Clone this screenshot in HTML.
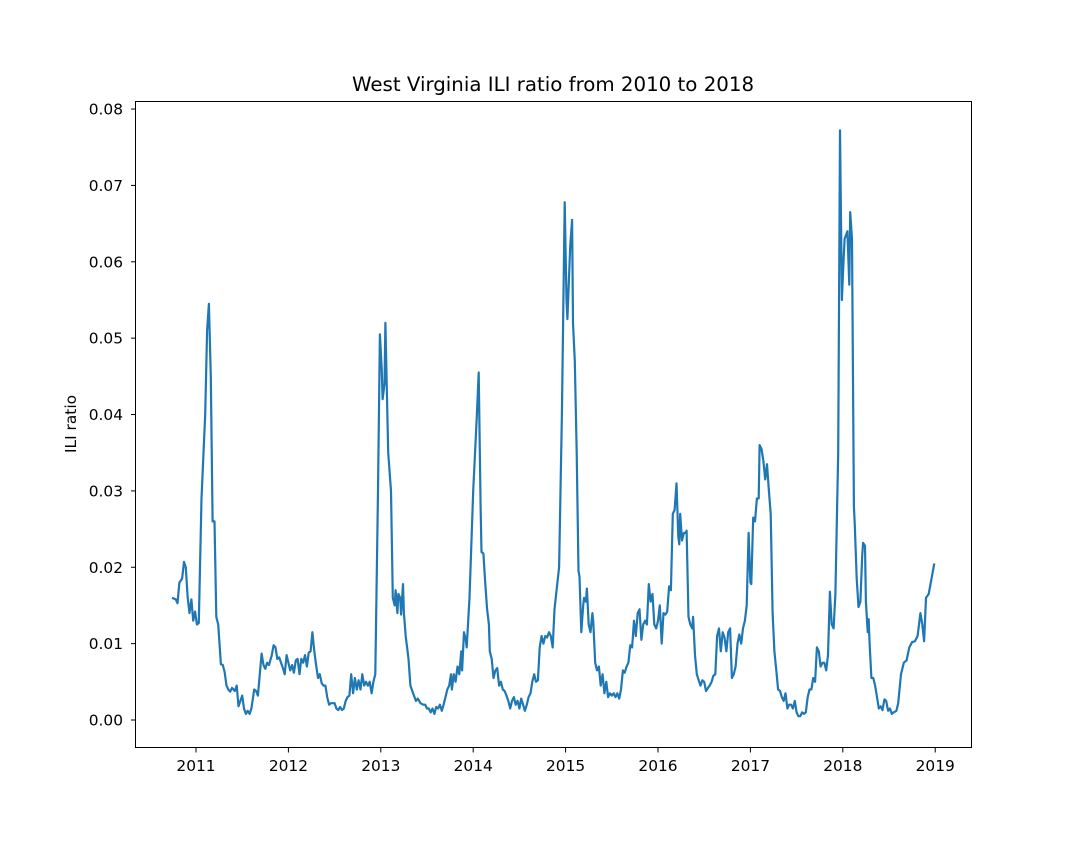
<!DOCTYPE html>
<html><head><meta charset="utf-8"><style>
body{margin:0;background:#fff;}
svg{font-family:"DejaVu Sans","Liberation Sans",sans-serif;}
</style></head><body>
<svg id="chart" width="1080" height="840" viewBox="0 0 1080 840">
<rect width="1080" height="840" fill="#fff"/>
<text x="553" y="91" text-anchor="middle" font-size="19.8">West Virginia ILI ratio from 2010 to 2018</text>
<text transform="translate(76,424) rotate(-90)" text-anchor="middle" font-size="15.4">ILI ratio</text>
<g id="ticks"></g>
<path id="line" fill="none" stroke="#1f77b4" stroke-width="2.2" stroke-linejoin="round"/>
<rect x="135.5" y="101.5" width="836" height="646" fill="none" stroke="#000" stroke-width="1"/>
</svg>
<script>
const dates=[2010.74,2010.78,2010.80,2010.82,2010.85,2010.87,2010.89,2010.91,2010.93,2010.95,2010.97,2010.99,2011.01,2011.03,2011.06,2011.10,2011.12,2011.14,2011.16,2011.18,2011.20,2011.22,2011.24,2011.27,2011.29,2011.31,2011.33,2011.35,2011.37,2011.39,2011.42,2011.44,2011.46,2011.48,2011.50,2011.52,2011.54,2011.56,2011.58,2011.60,2011.63,2011.65,2011.67,2011.69,2011.71,2011.73,2011.75,2011.77,2011.79,2011.82,2011.84,2011.86,2011.88,2011.90,2011.92,2011.94,2011.96,2011.98,2012.00,2012.02,2012.04,2012.06,2012.08,2012.10,2012.12,2012.14,2012.16,2012.18,2012.20,2012.22,2012.24,2012.26,2012.28,2012.30,2012.32,2012.34,2012.36,2012.38,2012.40,2012.42,2012.44,2012.46,2012.48,2012.50,2012.52,2012.54,2012.56,2012.58,2012.60,2012.62,2012.64,2012.66,2012.68,2012.70,2012.72,2012.74,2012.76,2012.78,2012.80,2012.82,2012.84,2012.86,2012.88,2012.90,2012.92,2012.94,2012.96,2012.97,2012.99,2013.01,2013.02,2013.04,2013.05,2013.08,2013.11,2013.13,2013.15,2013.16,2013.18,2013.19,2013.21,2013.22,2013.24,2013.25,2013.27,2013.30,2013.32,2013.35,2013.38,2013.40,2013.43,2013.46,2013.48,2013.50,2013.52,2013.54,2013.56,2013.58,2013.60,2013.62,2013.64,2013.66,2013.68,2013.70,2013.72,2013.74,2013.76,2013.77,2013.79,2013.81,2013.83,2013.85,2013.87,2013.88,2013.90,2013.92,2013.93,2013.96,2014.00,2014.04,2014.06,2014.08,2014.09,2014.11,2014.13,2014.15,2014.17,2014.18,2014.20,2014.22,2014.24,2014.26,2014.28,2014.30,2014.32,2014.34,2014.36,2014.38,2014.40,2014.42,2014.44,2014.46,2014.48,2014.50,2014.52,2014.54,2014.56,2014.58,2014.60,2014.62,2014.64,2014.66,2014.68,2014.70,2014.72,2014.74,2014.76,2014.78,2014.80,2014.82,2014.84,2014.86,2014.88,2014.90,2014.93,2014.96,2014.99,2015.01,2015.02,2015.05,2015.07,2015.08,2015.10,2015.12,2015.14,2015.15,2015.17,2015.19,2015.20,2015.22,2015.23,2015.25,2015.27,2015.29,2015.30,2015.32,2015.34,2015.36,2015.38,2015.40,2015.42,2015.44,2015.46,2015.48,2015.50,2015.52,2015.54,2015.56,2015.58,2015.60,2015.62,2015.64,2015.66,2015.68,2015.70,2015.72,2015.74,2015.76,2015.78,2015.80,2015.82,2015.84,2015.86,2015.88,2015.90,2015.92,2015.94,2015.96,2015.98,2016.00,2016.02,2016.04,2016.06,2016.08,2016.10,2016.12,2016.14,2016.16,2016.18,2016.20,2016.22,2016.23,2016.24,2016.26,2016.28,2016.30,2016.31,2016.33,2016.35,2016.37,2016.38,2016.40,2016.42,2016.44,2016.46,2016.48,2016.50,2016.52,2016.54,2016.56,2016.58,2016.60,2016.62,2016.64,2016.66,2016.68,2016.70,2016.72,2016.74,2016.76,2016.78,2016.80,2016.82,2016.84,2016.86,2016.88,2016.90,2016.92,2016.94,2016.96,2016.98,2017.00,2017.01,2017.03,2017.05,2017.07,2017.09,2017.10,2017.12,2017.14,2017.16,2017.18,2017.20,2017.22,2017.24,2017.26,2017.28,2017.30,2017.32,2017.34,2017.36,2017.38,2017.40,2017.42,2017.44,2017.46,2017.48,2017.50,2017.52,2017.54,2017.56,2017.58,2017.60,2017.62,2017.64,2017.66,2017.68,2017.70,2017.72,2017.74,2017.76,2017.78,2017.80,2017.82,2017.84,2017.86,2017.88,2017.90,2017.92,2017.95,2017.97,2017.99,2018.00,2018.02,2018.05,2018.07,2018.08,2018.10,2018.12,2018.13,2018.15,2018.17,2018.19,2018.21,2018.22,2018.24,2018.25,2018.27,2018.28,2018.29,2018.31,2018.33,2018.35,2018.37,2018.39,2018.41,2018.43,2018.45,2018.47,2018.49,2018.51,2018.53,2018.55,2018.58,2018.60,2018.63,2018.66,2018.69,2018.72,2018.75,2018.78,2018.81,2018.84,2018.86,2018.88,2018.90,2018.93,2018.99];
const values=[0.016,0.0158,0.0153,0.018,0.0185,0.0207,0.020,0.016,0.014,0.0158,0.013,0.0142,0.0125,0.0127,0.029,0.040,0.051,0.0545,0.045,0.026,0.026,0.0135,0.0125,0.0073,0.0072,0.0063,0.0045,0.004,0.0037,0.0042,0.0038,0.0045,0.0018,0.0025,0.0032,0.0015,0.0008,0.0012,0.0008,0.0015,0.004,0.0038,0.0032,0.006,0.0087,0.0072,0.0067,0.0075,0.0072,0.0085,0.0098,0.0095,0.008,0.0082,0.0075,0.0068,0.006,0.0085,0.0075,0.0065,0.0072,0.0062,0.0078,0.008,0.006,0.008,0.0075,0.0085,0.007,0.0088,0.009,0.0115,0.009,0.0072,0.0055,0.006,0.0048,0.0045,0.0045,0.003,0.002,0.0022,0.0022,0.0022,0.0015,0.0013,0.0017,0.0013,0.0015,0.0025,0.003,0.0032,0.006,0.0035,0.0055,0.004,0.0052,0.004,0.006,0.0045,0.005,0.0045,0.005,0.0035,0.005,0.006,0.022,0.030,0.0505,0.046,0.042,0.044,0.052,0.035,0.030,0.016,0.015,0.017,0.014,0.0165,0.016,0.0138,0.0178,0.014,0.011,0.008,0.0045,0.0035,0.0025,0.0028,0.0022,0.002,0.002,0.0015,0.0015,0.001,0.0015,0.0008,0.0017,0.0015,0.002,0.0012,0.002,0.003,0.004,0.0045,0.006,0.004,0.006,0.005,0.007,0.006,0.009,0.0065,0.0115,0.0105,0.0095,0.016,0.030,0.040,0.0455,0.028,0.022,0.0218,0.018,0.0145,0.0125,0.009,0.008,0.0055,0.0065,0.0068,0.0045,0.005,0.004,0.0038,0.0032,0.0025,0.0015,0.0025,0.003,0.002,0.0025,0.0015,0.0028,0.002,0.0012,0.002,0.003,0.0035,0.005,0.006,0.005,0.0052,0.0095,0.011,0.010,0.011,0.0108,0.0115,0.011,0.0095,0.0145,0.0168,0.020,0.040,0.0678,0.055,0.0525,0.062,0.0655,0.052,0.047,0.035,0.0195,0.0188,0.0115,0.015,0.016,0.0155,0.0172,0.0125,0.0115,0.014,0.0128,0.0075,0.0065,0.007,0.0045,0.006,0.0035,0.005,0.003,0.0035,0.0032,0.0035,0.003,0.0035,0.0028,0.004,0.0065,0.0062,0.007,0.0075,0.0098,0.0095,0.013,0.011,0.014,0.0145,0.0105,0.0125,0.013,0.0125,0.0178,0.0155,0.0165,0.0125,0.012,0.013,0.015,0.010,0.014,0.0138,0.0142,0.0175,0.017,0.027,0.0275,0.031,0.024,0.023,0.027,0.0235,0.0245,0.0245,0.0248,0.0135,0.0125,0.012,0.0135,0.0085,0.006,0.0052,0.0045,0.0052,0.005,0.0038,0.0042,0.0045,0.005,0.0058,0.006,0.011,0.012,0.009,0.0115,0.0108,0.009,0.0115,0.012,0.0055,0.006,0.007,0.010,0.0112,0.010,0.012,0.013,0.015,0.0245,0.018,0.0178,0.0265,0.026,0.029,0.029,0.036,0.0355,0.034,0.0315,0.0335,0.030,0.027,0.014,0.009,0.0065,0.004,0.0038,0.003,0.0025,0.0035,0.0015,0.002,0.002,0.0015,0.0025,0.001,0.0005,0.0005,0.001,0.0008,0.001,0.003,0.004,0.004,0.0055,0.005,0.0095,0.009,0.007,0.0075,0.0075,0.0065,0.0085,0.0168,0.0125,0.012,0.0165,0.035,0.0772,0.055,0.058,0.063,0.064,0.057,0.0665,0.063,0.028,0.0255,0.0185,0.0148,0.0155,0.0215,0.0232,0.0228,0.0155,0.0115,0.0132,0.010,0.0055,0.0055,0.0045,0.003,0.0015,0.0018,0.0013,0.0027,0.0025,0.0012,0.0015,0.0008,0.001,0.0012,0.0022,0.006,0.0075,0.0078,0.0095,0.0102,0.0103,0.011,0.014,0.0125,0.0103,0.016,0.0165,0.0205];
const xTicks=[2011,2012,2013,2014,2015,2016,2017,2018,2019];
const yTicks=[0,0.01,0.02,0.03,0.04,0.05,0.06,0.07,0.08];
const yTickLabels=["0.00","0.01","0.02","0.03","0.04","0.05","0.06","0.07","0.08"];

const NS="http://www.w3.org/2000/svg";
function xScale(t){return 196+(t-2011)*92.4;}
function yScale(v){return 720-v*7637;}
const g=document.getElementById('ticks');
xTicks.forEach(function(t){
  const x=xScale(t);
  const l=document.createElementNS(NS,'line');
  l.setAttribute('x1',x);l.setAttribute('x2',x);l.setAttribute('y1',748);l.setAttribute('y2',752.5);
  l.setAttribute('stroke','#000');
  
  
  g.appendChild(l);
  const tx=document.createElementNS(NS,'text');
  tx.setAttribute('x',x);tx.setAttribute('y',771);tx.setAttribute('text-anchor','middle');tx.setAttribute('font-size','15.4');
  tx.textContent=t;
  
  
  g.appendChild(tx);
});
yTicks.forEach(function(v,i){
  const y=yScale(v);
  const l=document.createElementNS(NS,'line');
  l.setAttribute('x1',131);l.setAttribute('x2',135.5);l.setAttribute('y1',y);l.setAttribute('y2',y);
  l.setAttribute('stroke','#000');
  
  
  g.appendChild(l);
  const tx=document.createElementNS(NS,'text');
  tx.setAttribute('x',123);tx.setAttribute('y',y+5.5);tx.setAttribute('text-anchor','end');tx.setAttribute('font-size','15.4');
  tx.textContent=yTickLabels[i];
  
  
  g.appendChild(tx);
});
let d='';
dates.forEach(function(t,i){d+=(i?'L':'M')+xScale(t).toFixed(1)+','+yScale(values[i]).toFixed(1);});
document.getElementById('line').setAttribute('d',d);
</script>
</body></html>
